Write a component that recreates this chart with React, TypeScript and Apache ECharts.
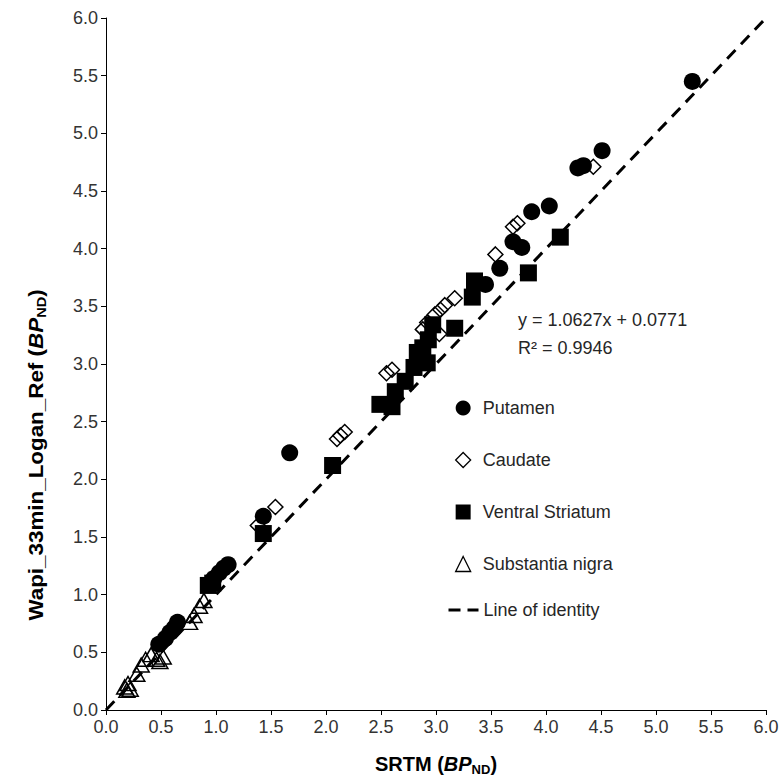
import React, { useEffect, useRef } from "react";
import * as echarts from "echarts";

// ---- data ----
const putamenX = [0.48, 0.54, 0.58, 0.62, 0.65, 0.98, 1.03, 1.07, 1.11, 1.43, 1.67, 3.45, 3.58, 3.70, 3.78, 3.87, 4.03, 4.29, 4.34, 4.51, 5.33];
const putamenY = [0.57, 0.62, 0.67, 0.71, 0.76, 1.14, 1.19, 1.23, 1.26, 1.68, 2.23, 3.69, 3.83, 4.06, 4.01, 4.32, 4.37, 4.70, 4.72, 4.85, 5.45];

const caudateX = [1.38, 1.54, 2.10, 2.13, 2.17, 2.55, 2.60, 2.88, 2.92, 2.99, 3.03, 3.04, 3.08, 3.17, 3.54, 3.70, 3.74, 4.43];
const caudateY = [1.60, 1.76, 2.35, 2.38, 2.41, 2.92, 2.95, 3.30, 3.36, 3.43, 3.26, 3.47, 3.51, 3.57, 3.95, 4.19, 4.22, 4.71];

const ventralX = [0.93, 0.97, 1.43, 2.06, 2.49, 2.60, 2.63, 2.72, 2.80, 2.83, 2.88, 2.92, 2.93, 2.97, 3.17, 3.33, 3.35, 3.84, 4.13];
const ventralY = [1.08, 1.10, 1.53, 2.12, 2.65, 2.63, 2.76, 2.85, 2.97, 3.10, 3.14, 3.01, 3.21, 3.34, 3.31, 3.58, 3.72, 3.79, 4.10];

const nigraX = [0.17, 0.19, 0.20, 0.22, 0.28, 0.32, 0.36, 0.41, 0.46, 0.49, 0.52, 0.76, 0.80, 0.85, 0.89];
const nigraY = [0.20, 0.17, 0.23, 0.18, 0.31, 0.39, 0.44, 0.48, 0.44, 0.42, 0.46, 0.76, 0.82, 0.90, 0.95];

const identityX = [0, 6];
const identityY = [0, 6];

const seriesNames = ["Putamen", "Caudate", "Ventral Striatum", "Substantia nigra", "Line of identity"];
const equationLines = ["y = 1.0627x + 0.0771", "R² = 0.9946"];
const xTitleParts = ["SRTM (", "BP", "ND", ")"];
const yTitleParts = ["Wapi_33min_Logan_Ref (", "BP", "ND", ")"];

const zip = (xs: number[], ys: number[]) => xs.map((x, i) => [x, ys[i]]);

const FONT = "'Liberation Sans', Arial, sans-serif";

const titleRich = {
  b: { fontFamily: FONT, fontWeight: "bold", fontSize: 20, lineHeight: 24, color: "#000" },
  bi: { fontFamily: FONT, fontWeight: "bold", fontStyle: "italic", fontSize: 20, lineHeight: 24, color: "#000" },
  sub: { fontFamily: FONT, fontWeight: "bold", fontSize: 13, lineHeight: 14, verticalAlign: "bottom", color: "#000" },
};
const titleText = (p: string[]) => `{b|${p[0]}}{bi|${p[1]}}{sub|${p[2]}}{b|${p[3]}}`;

const solid = { color: "#000", opacity: 1 };
const hollow = { color: "rgba(0,0,0,0)", borderColor: "#000", borderWidth: 1.5, opacity: 1 };
const legendText = { fontSize: 18, color: "#262626", fontFamily: FONT };

export default function App() {
  const ref = useRef<HTMLDivElement>(null);
  useEffect(() => {
    if (!ref.current) return;
    const chart = echarts.init(ref.current, null, { renderer: "svg" });
    const axisCommon = {
      type: "value" as const,
      min: 0,
      max: 6,
      interval: 0.5,
      axisLine: { show: true, lineStyle: { color: "#000", width: 1 } },
      axisTick: { show: true, length: 5, lineStyle: { color: "#000" } },
      splitLine: { show: false },
      axisLabel: {
        formatter: (v: number) => v.toFixed(1),
        fontSize: 18,
        color: "#333",
        fontFamily: FONT,
        margin: 8,
      },
    };
    chart.setOption({
      animation: false,
      backgroundColor: "#fff",
      grid: { left: 106, top: 18, width: 660, height: 692 },
      xAxis: { ...axisCommon },
      yAxis: { ...axisCommon },
      legend: [
        {
          orient: "vertical",
          left: 450,
          top: 394,
          itemWidth: 15,
          itemHeight: 15,
          itemGap: 34,
          textStyle: { ...legendText, padding: [0, 0, 0, 7] },
          data: [
            { name: seriesNames[0], icon: "circle", itemStyle: solid },
            { name: seriesNames[1], icon: "diamond", itemStyle: { ...hollow, borderWidth: 1.3 } },
            { name: seriesNames[2], icon: "rect", itemStyle: solid },
            { name: seriesNames[3], icon: "triangle", itemStyle: { ...hollow, borderWidth: 1.3 } },
          ],
        },
        {
          orient: "vertical",
          left: 442,
          top: 596,
          itemWidth: 30,
          itemHeight: 15,
          textStyle: { ...legendText, padding: [0, 0, 0, 0] },
          data: [
            {
              name: seriesNames[4],
              itemStyle: { color: "rgba(0,0,0,0)", borderWidth: 0, opacity: 0 },
              lineStyle: { color: "#000", width: 3, type: [12, 7] },
            },
          ],
        },
      ],
      series: [
        {
          name: seriesNames[0],
          type: "scatter",
          symbol: "circle",
          symbolSize: 17,
          itemStyle: solid,
          data: zip(putamenX, putamenY),
        },
        {
          name: seriesNames[1],
          type: "scatter",
          symbol: "diamond",
          symbolSize: 15,
          itemStyle: hollow,
          data: zip(caudateX, caudateY),
        },
        {
          name: seriesNames[2],
          type: "scatter",
          symbol: "rect",
          symbolSize: 17,
          itemStyle: solid,
          data: zip(ventralX, ventralY),
        },
        {
          name: seriesNames[3],
          type: "scatter",
          symbol: "triangle",
          symbolSize: [16, 14],
          itemStyle: hollow,
          data: zip(nigraX, nigraY),
        },
        {
          name: seriesNames[4],
          type: "line",
          symbol: "none",
          lineStyle: { color: "#000", width: 3, type: [12, 8] },
          itemStyle: { color: "#000" },
          data: zip(identityX, identityY),
          z: 5,
        },
      ],
      graphic: [
        {
          type: "text",
          x: 436,
          y: 764,
          style: {
            text: titleText(xTitleParts),
            rich: titleRich,
            align: "center",
            verticalAlign: "middle",
          },
        },
        {
          type: "text",
          x: 36,
          y: 455,
          rotation: Math.PI / 2,
          scaleX: 1.12,
          style: {
            text: titleText(yTitleParts),
            rich: titleRich,
            align: "center",
            verticalAlign: "middle",
          },
        },
        {
          type: "text",
          x: 518,
          y: 306,
          style: {
            text: equationLines.join("\n"),
            fontFamily: FONT,
            fontSize: 18,
            lineHeight: 28,
            fill: "#262626",
            align: "left",
            verticalAlign: "top",
          },
        },
      ],
    });
    return () => chart.dispose();
  }, []);
  return (
    <div
      ref={ref}
      style={{ position: "fixed", left: 0, top: 0, width: 784, height: 778, background: "#fff" }}
    />
  );
}
